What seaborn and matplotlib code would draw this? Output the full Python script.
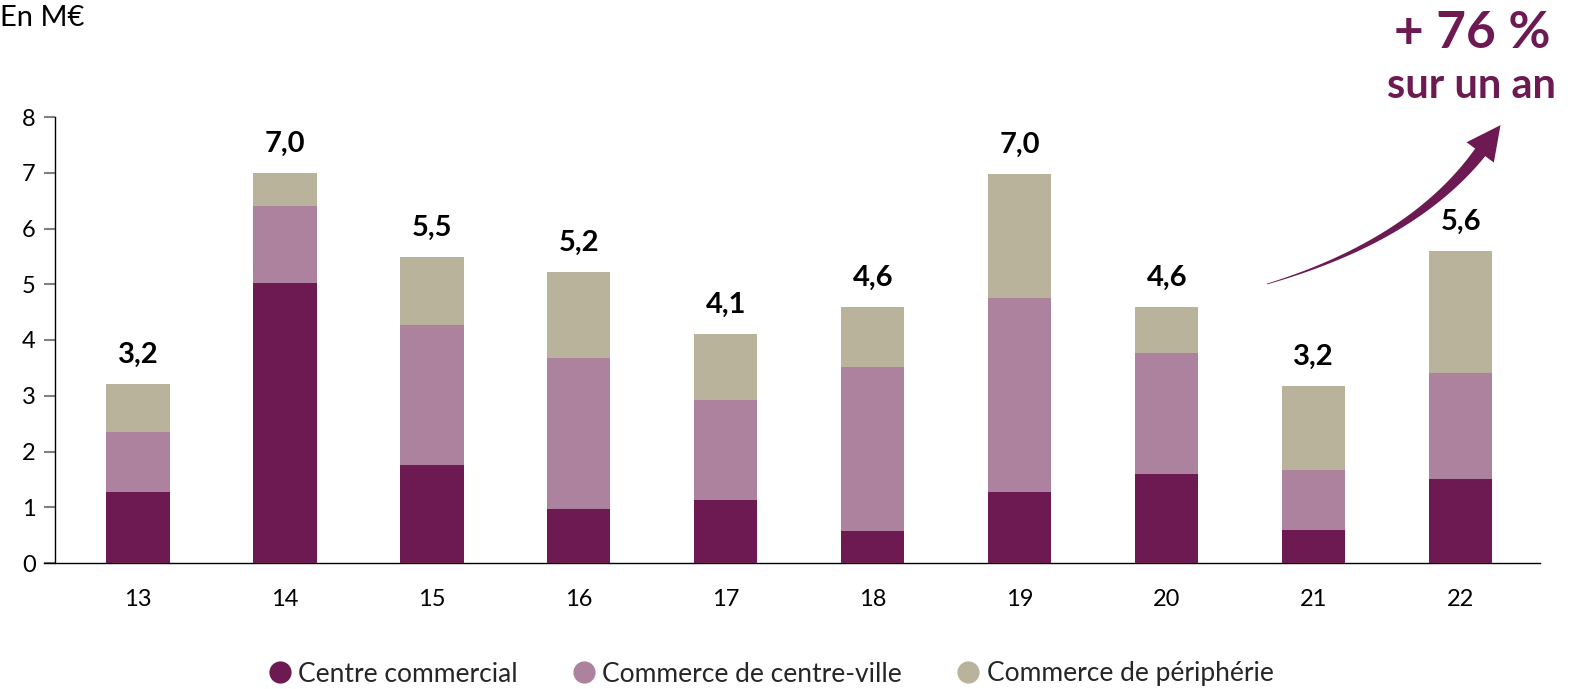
import numpy as np
import pandas as pd
import matplotlib
matplotlib.use("Agg")
import matplotlib.pyplot as plt
import seaborn as sns
from matplotlib.patches import Polygon
from matplotlib.lines import Line2D

# ---- data ----
years = ["13", "14", "15", "16", "17", "18", "19", "20", "21", "22"]
centre_commercial = [1.27, 5.02, 1.76, 0.97, 1.13, 0.57, 1.27, 1.60, 0.59, 1.51]
centre_ville = [1.08, 1.38, 2.51, 2.71, 1.79, 2.95, 3.48, 2.17, 1.08, 1.90]
peripherie = [0.86, 0.60, 1.22, 1.54, 1.19, 1.07, 2.23, 0.82, 1.50, 2.19]
totals_labels = ["3,2", "7,0", "5,5", "5,2", "4,1", "4,6", "7,0", "4,6", "3,2", "5,6"]
series_names = ["Centre commercial", "Commerce de centre-ville", "Commerce de périphérie"]
colors = ["#6D1A52", "#AD829E", "#BAB39B"]
y_ticks = [0, 1, 2, 3, 4, 5, 6, 7, 8]

sns.set_theme(style="white")
plt.rcParams["font.family"] = ["Lato", "DejaVu Sans"]

W, H = 1570, 689
fig = plt.figure(figsize=(W / 100, H / 100), dpi=100)
ax = fig.add_axes([55 / W, 1 - 563 / H, (1540 - 55) / W, (563 - 117) / H])

df = pd.DataFrame({"year": years})
bottom = np.zeros(len(years))
series = [centre_commercial, centre_ville, peripherie]
for i, vals in enumerate(series):
    df["cum"] = bottom + np.array(vals)
    sns.barplot(data=df, x="year", y="cum", color=colors[i], width=0.43,
                saturation=1, ax=ax, zorder=3 - i, edgecolor="none")
    bottom = bottom + np.array(vals)

totals = bottom
for i, (t, lab) in enumerate(zip(totals, totals_labels)):
    ax.annotate(lab, xy=(i, t), xytext=(0, 21), textcoords="offset points",
                ha="center", va="center", fontsize=21, fontweight="bold", color="black")

ax.set_xlim(-0.565, 9.54)
ax.set_ylim(0, 8)
ax.set_yticks(y_ticks)
ax.set_yticklabels([str(v) for v in y_ticks])
ax.set_xlabel("")
ax.set_ylabel("")
for s in ["top", "right"]:
    ax.spines[s].set_visible(False)
ax.spines["left"].set_color("black")
ax.spines["left"].set_linewidth(1.0)
ax.spines["bottom"].set_color("black")
ax.spines["bottom"].set_linewidth(1.0)
ax.spines["bottom"].set_bounds(-0.565 - 11 / 147, 9.54)
ax.tick_params(axis="y", length=8, width=1.5, color="#808080", labelsize=17, pad=6, left=True)
ax.tick_params(axis="x", length=0, labelsize=17, pad=19)
for lab in ax.get_xticklabels() + ax.get_yticklabels():
    lab.set_color("black")
    lab.set_fontsize(17)

fig.text(0, 1 - 18 / H, "En M€", fontsize=21, ha="left", va="center", color="black")

# annotation
fig.text(1550 / W, 1 - 34 / H, "+ 76 %", fontsize=37, fontweight="bold", color="#6D1A52",
         ha="right", va="center")
fig.text(1556 / W, 1 - 86 / H, "sur un an", fontsize=30, fontweight="bold", color="#6D1A52",
         ha="right", va="center")

# curved tapering arrow (figure pixel coords, y down -> convert)
p0 = np.array([1267.0, 284.0])
p1 = np.array([1415.0, 240.0])
p2 = np.array([1482.0, 150.0])
t = np.linspace(0, 1, 80)
curve = ((1 - t)[:, None] ** 2) * p0 + (2 * (1 - t) * t)[:, None] * p1 + (t ** 2)[:, None] * p2
deriv = 2 * (1 - t)[:, None] * (p1 - p0) + 2 * t[:, None] * (p2 - p1)
nrm = np.stack([-deriv[:, 1], deriv[:, 0]], axis=1)
nrm /= np.linalg.norm(nrm, axis=1)[:, None]
wdt = 0.4 + 6.0 * t ** 1.2
left = curve + nrm * wdt[:, None]
right = curve - nrm * wdt[:, None]
body = np.vstack([left, right[::-1]])
dirv = deriv[-1] / np.linalg.norm(deriv[-1])
head_base = p2 - dirv * 3
tip = head_base + dirv * 34
n_end = nrm[-1]
head = np.array([head_base + n_end * 17, tip, head_base - n_end * 17])
def to_fig(pts):
    return np.column_stack([pts[:, 0] / W, 1 - pts[:, 1] / H])
fig.patches.append(Polygon(to_fig(body), closed=True, transform=fig.transFigure,
                           facecolor="#6D1A52", edgecolor="none"))
fig.patches.append(Polygon(to_fig(head), closed=True, transform=fig.transFigure,
                           facecolor="#6D1A52", edgecolor="none"))

# legend
handles = [Line2D([0], [0], marker="o", linestyle="none", markersize=16,
                  markerfacecolor=c, markeredgecolor="none") for c in colors]
fig.legend(handles, series_names, loc="center", bbox_to_anchor=(770 / W, 1 - 674 / H),
           ncol=3, frameon=False, fontsize=19, handletextpad=0.2, columnspacing=2.0,
           handlelength=1.0)

fig.savefig("out.png", dpi=100)
